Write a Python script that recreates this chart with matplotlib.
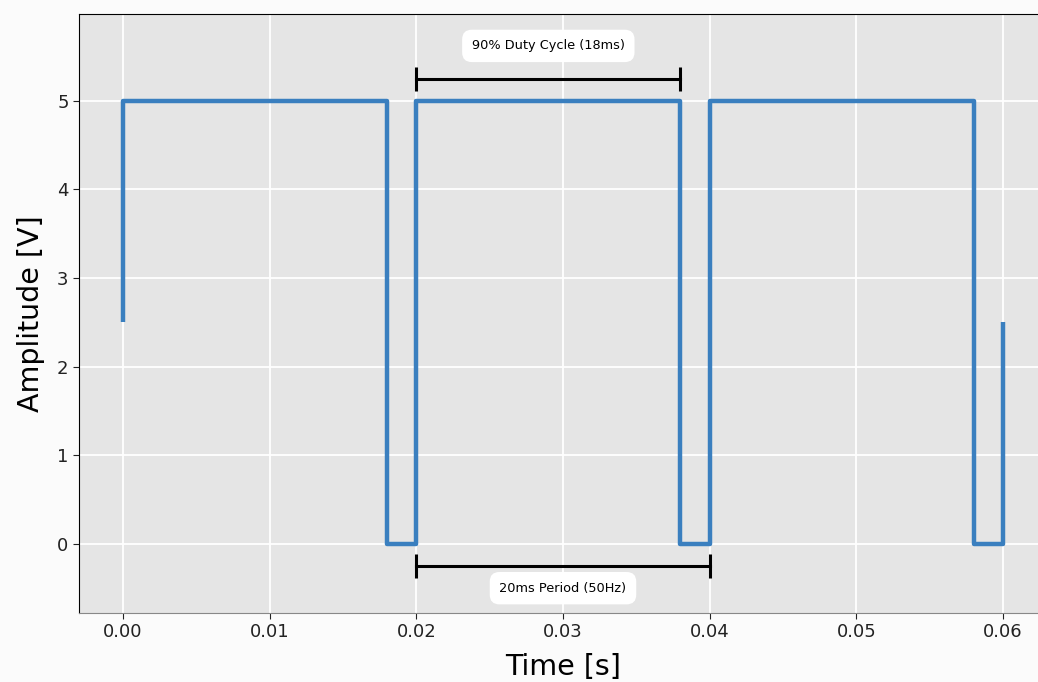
import matplotlib
matplotlib.use("Agg")
import matplotlib.pyplot as plt

# square wave, 50 Hz, 90% duty cycle
t = [0.0, 0.0, 0.018, 0.018, 0.020, 0.020, 0.038, 0.038, 0.040, 0.040, 0.058, 0.058, 0.060, 0.060]
v = [2.5, 5.0, 5.0, 0.0, 0.0, 5.0, 5.0, 0.0, 0.0, 5.0, 5.0, 0.0, 0.0, 2.5]

duty_span = [0.020, 0.038]
duty_y = 5.25
duty_text = "90% Duty Cycle (18ms)"
period_span = [0.020, 0.040]
period_y = -0.25
period_text = "20ms Period (50Hz)"

fig = plt.figure(figsize=(10.38, 6.82), dpi=100, facecolor="#fbfbfb")
ax = fig.add_axes([79/1038, 69/682, 968/1038, 599/682])
ax.set_facecolor("#e5e5e5")

ax.plot(t, v, color="#3a7fbf", lw=3.2, solid_joinstyle="round", solid_capstyle="butt", zorder=3)

cap = 0.135
for span, y in [(duty_span, duty_y), (period_span, period_y)]:
    ax.plot(span, [y, y], color="black", lw=2.2, zorder=4)
    ax.vlines(span, y - cap, y + cap, color="black", lw=2.2, zorder=4)

box = dict(boxstyle="round,pad=0.75", fc="white", ec="none")
ax.text(sum(duty_span)/2, 5.62, duty_text, ha="center", va="center", fontsize=9.3, bbox=box, zorder=5)
ax.text(sum(period_span)/2, -0.5, period_text, ha="center", va="center", fontsize=9.3, bbox=box, zorder=5)

ax.set_xlim(-0.003, 0.063)
ax.set_ylim(-0.78, 5.98)
ax.set_xticks([0.0, 0.01, 0.02, 0.03, 0.04, 0.05, 0.06])
ax.set_yticks([0, 1, 2, 3, 4, 5])
ax.grid(True, color="white", lw=1.3)
ax.set_axisbelow(True)
ax.tick_params(labelsize=13, length=4, colors="#222222")
ax.spines["bottom"].set_color("#888888")
ax.spines["right"].set_visible(False)
ax.set_xlabel("Time [s]", fontsize=20.5, labelpad=8)
ax.set_ylabel("Amplitude [V]", fontsize=20.5, labelpad=9)

fig.savefig("out.png", dpi=100, facecolor=fig.get_facecolor())
